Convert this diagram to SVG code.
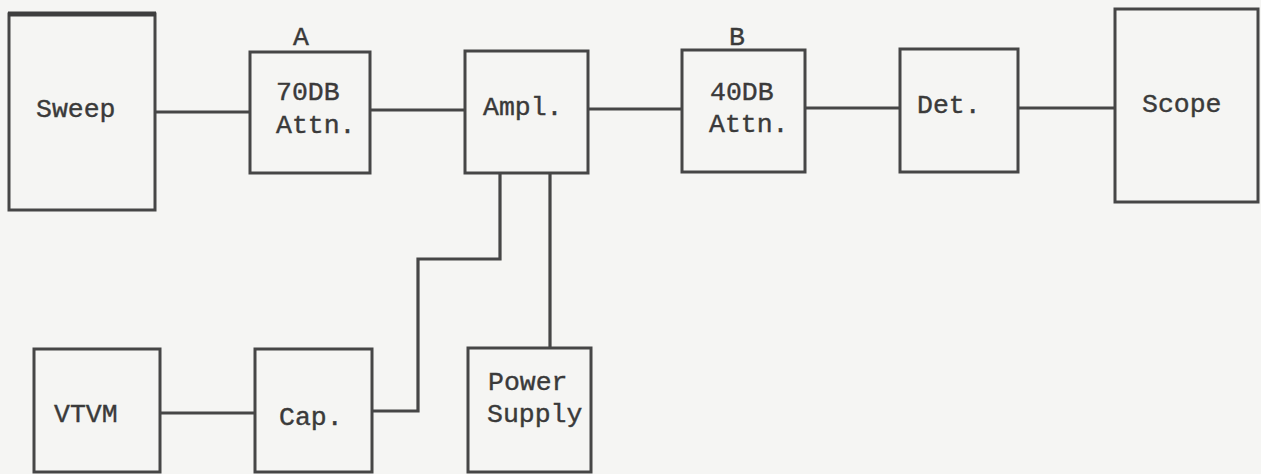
<svg xmlns="http://www.w3.org/2000/svg" width="1261" height="474" viewBox="0 0 1261 474">
<style>
.box{fill:none;stroke:#464646;stroke-width:3;stroke-linejoin:miter}
.wire{fill:none;stroke:#464646;stroke-width:3.2}
.t{font-family:"Liberation Mono","Courier New",monospace;font-size:26.5px;fill:#3a3a3a;stroke:#3a3a3a;stroke-width:0.4}
</style>
<rect width="1261" height="474" fill="#f5f5f3"/>
<g id="connectors">
<line class="wire" x1="155" y1="112" x2="250" y2="112"/>
<line class="wire" x1="370" y1="110" x2="465" y2="110"/>
<line class="wire" x1="588" y1="109" x2="682" y2="109"/>
<line class="wire" x1="805" y1="108" x2="900" y2="108"/>
<line class="wire" x1="1018" y1="108" x2="1115" y2="108"/>
<line class="wire" x1="160" y1="413" x2="255" y2="413"/>
<polyline class="wire" points="372,411 418,411 418,259 500,259 500,173"/>
<line class="wire" x1="550" y1="173" x2="550" y2="348"/>
</g>
<g id="sweep">
<rect class="box" x="9" y="14" width="146" height="196"/>
<line x1="8" y1="14" x2="156" y2="14" stroke="#3e3e3e" stroke-width="5"/>
<text class="t" x="36" y="117">Sweep</text>
</g>
<g id="attn70">
<rect class="box" x="250" y="52" width="120" height="121"/>
<text class="t" x="293" y="45">A</text>
<text class="t" x="276" y="100">70DB</text>
<text class="t" x="276" y="133">Attn.</text>
</g>
<g id="ampl">
<rect class="box" x="465" y="51" width="123" height="122"/>
<text class="t" x="483" y="115">Ampl.</text>
</g>
<g id="attn40">
<rect class="box" x="682" y="50" width="123" height="122"/>
<text class="t" x="729" y="45">B</text>
<text class="t" x="710" y="100">40DB</text>
<text class="t" x="709" y="132">Attn.</text>
</g>
<g id="det">
<rect class="box" x="900" y="49" width="118" height="123"/>
<text class="t" x="917" y="113">Det.</text>
</g>
<g id="scope">
<rect class="box" x="1115" y="9" width="143" height="193"/>
<text class="t" x="1142" y="112">Scope</text>
</g>
<g id="vtvm">
<rect class="box" x="34" y="349" width="126" height="123"/>
<text class="t" x="54" y="422">VTVM</text>
</g>
<g id="cap">
<rect class="box" x="255" y="349" width="117" height="123"/>
<text class="t" x="279" y="425">Cap.</text>
</g>
<g id="power">
<rect class="box" x="468" y="348" width="123" height="124"/>
<text class="t" x="488" y="390">Power</text>
<text class="t" x="487" y="422">Supply</text>
</g>
</svg>
